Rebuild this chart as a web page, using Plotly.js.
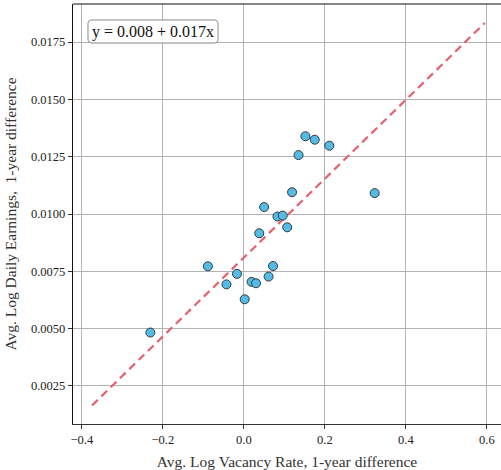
<!DOCTYPE html>
<html><head><meta charset="utf-8">
<script src="https://cdn.plot.ly/plotly-3.0.1.min.js"></script>
<style>html,body{margin:0;padding:0;background:#fff}#chart{width:501px;height:470px}</style>
</head><body><div id="chart"></div>
<script>
const vacancyDiff = [-0.231, -0.089, -0.043, -0.017, 0.002, 0.019, 0.030, 0.061, 0.072, 0.038, 0.050, 0.083, 0.096, 0.107, 0.119, 0.135, 0.152, 0.175, 0.211, 0.323];
const earningsDiff = [0.00483, 0.00772, 0.00693, 0.00739, 0.00628, 0.00704, 0.00698, 0.00727, 0.00773, 0.00916, 0.01030, 0.00989, 0.00993, 0.00942, 0.01095, 0.01257, 0.01339, 0.01324, 0.01298, 0.01091];
const fitIntercept = 0.0081;
const fitSlope = 0.0172;
const fitX = [-0.375, 0.595];
const fitY = fitX.map(x => fitIntercept + fitSlope * x);
const eqLabel = 'y = 0.008 + 0.017x';
const xTicks = [-0.4, -0.2, 0.0, 0.2, 0.4, 0.6];
const xTickText = ['\u22120.4', '\u22120.2', '0.0', '0.2', '0.4', '0.6'];
const yTicks = [0.0025, 0.0050, 0.0075, 0.0100, 0.0125, 0.0150, 0.0175];
const yTickText = ['0.0025', '0.0050', '0.0075', '0.0100', '0.0125', '0.0150', '0.0175'];

const font = 'Liberation Serif, Times New Roman, serif';

// rounded box in paper coordinates
function roundedBox(x0, x1, y0, y1, rx, ry) {
  return `M ${x0+rx},${y0} L ${x1-rx},${y0} Q ${x1},${y0} ${x1},${y0+ry} L ${x1},${y1-ry} Q ${x1},${y1} ${x1-rx},${y1} ` +
         `L ${x0+rx},${y1} Q ${x0},${y1} ${x0},${y1-ry} L ${x0},${y0+ry} Q ${x0},${y0} ${x0+rx},${y0} Z`;
}

const data = [
  {x: fitX, y: fitY, mode: 'lines', type: 'scatter', line: {color: '#e5616f', width: 2.2, dash: '8px,5px'}, hoverinfo: 'skip'},
  {x: vacancyDiff, y: earningsDiff, mode: 'markers', type: 'scatter',
   marker: {size: 9, color: '#56bbe4', line: {color: '#2f3a40', width: 1}}}
];
const layout = {
  width: 501, height: 470,
  margin: {l: 73, r: 0, t: 4, b: 46},
  paper_bgcolor: '#fff', plot_bgcolor: '#fff',
  showlegend: false,
  font: {family: font, color: '#222', size: 12},
  xaxis: {range: [-0.422, 0.635], tickvals: xTicks, ticktext: xTickText,
    showgrid: true, gridcolor: '#b3b3b3', gridwidth: 1, zeroline: false,
    showline: true, linecolor: '#333', linewidth: 1.2, mirror: false,
    ticks: 'outside', ticklen: 4, tickcolor: '#333',
    tickfont: {family: font, size: 12.5, color: '#222'},
    title: {text: 'Avg. Log Vacancy Rate, 1-year difference', font: {family: font, size: 15.5, color: '#333'}, standoff: 10}},
  yaxis: {range: [0.00084, 0.01916], tickvals: yTicks, ticktext: yTickText,
    showgrid: true, gridcolor: '#b3b3b3', gridwidth: 1, zeroline: false,
    showline: true, linecolor: '#111', linewidth: 1.2,
    ticks: 'outside', ticklen: 4, tickcolor: '#333',
    tickfont: {family: font, size: 12.5, color: '#222'},
    title: {text: 'Avg. Log Daily Earnings,  1-year difference', font: {family: font, size: 15.5, color: '#333'}, standoff: 10}},
  shapes: [
    {type: 'line', xref: 'paper', yref: 'paper', x0: 0, x1: 1, y0: 1, y1: 1, line: {color: '#111', width: 1.2}},
    {type: 'path', xref: 'paper', yref: 'paper', path: roundedBox(0.035, 0.3388, 0.907, 0.962, 0.0095, 0.0098),
     fillcolor: 'rgba(255,255,255,0.85)', line: {color: '#8a8a8a', width: 1}, layer: 'above'}
  ],
  annotations: [
    {xref: 'paper', yref: 'paper', x: 0.187, y: 0.9345, xanchor: 'center', yanchor: 'middle',
     text: eqLabel, showarrow: false, font: {family: font, size: 16, color: '#111'}}
  ]
};
Plotly.newPlot('chart', data, layout, {displayModeBar: false, staticPlot: true});
</script></body></html>
